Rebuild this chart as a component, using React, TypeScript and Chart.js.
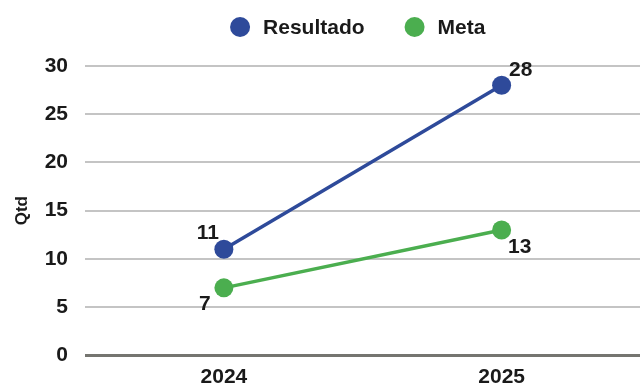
import React, { useEffect, useRef } from "react";
import { Chart, registerables } from "chart.js";

Chart.register(...registerables);

const categories = ["2024", "2025"];
const resultado = [11, 28];
const meta = [7, 13];
const yTicks = [0, 5, 10, 15, 20, 25, 30];

const BLUE = "#2E4A9A";
const GREEN = "#4BAE4F";
const FONT = "'Liberation Sans', Arial, sans-serif";
const TEXT = "#1a1a1a";

const labelPlugin = {
  id: "pointLabels",
  afterDatasetsDraw(chart: any) {
    const ctx = chart.ctx;
    ctx.save();
    ctx.font = `bold 21px ${FONT}`;
    ctx.fillStyle = TEXT;
    ctx.textBaseline = "middle";
    ctx.textAlign = "center";
    chart.data.datasets.forEach((ds: any, di: number) => {
      const m = chart.getDatasetMeta(di);
      m.data.forEach((pt: any, i: number) => {
        const v = ds.data[i];
        let dx = 0, dy = 0;
        if (di === 0) {
          if (i === 0) { dx = -16; dy = -16; }
          else { dx = 19; dy = -15; }
        } else {
          if (i === 0) { dx = -19; dy = 16; }
          else { dx = 18; dy = 17; }
        }
        ctx.fillText(String(v), pt.x + dx, pt.y + dy);
      });
    });
    ctx.restore();
  },
};

const legendPlugin = {
  id: "customLegend",
  afterDraw(chart: any) {
    const ctx = chart.ctx;
    const area = chart.chartArea;
    ctx.save();
    ctx.font = `bold 21px ${FONT}`;
    ctx.textBaseline = "middle";
    ctx.textAlign = "left";
    const r = 10, gap = 13, spacing = 40;
    const items = chart.data.datasets.map((ds: any) => ({
      label: ds.label,
      color: ds.borderColor,
      w: 2 * r + gap + ctx.measureText(ds.label).width,
    }));
    const total = items.reduce((s: number, it: any) => s + it.w, 0) + spacing * (items.length - 1);
    let x = (area.left + area.right) / 2 - 5 - total / 2;
    const y = 27;
    items.forEach((it: any) => {
      ctx.fillStyle = it.color;
      ctx.beginPath();
      ctx.arc(x + r, y, r, 0, Math.PI * 2);
      ctx.fill();
      ctx.fillStyle = TEXT;
      ctx.fillText(it.label, x + 2 * r + gap, y + 1);
      x += it.w + spacing;
    });
    ctx.restore();
  },
};

export default function App() {
  const ref = useRef<HTMLCanvasElement>(null);
  useEffect(() => {
    document.body.style.margin = "0";
    const chart = new Chart(ref.current!, {
      type: "line",
      data: {
        labels: categories,
        datasets: [
          {
            label: "Resultado",
            data: resultado,
            borderColor: BLUE,
            backgroundColor: BLUE,
            borderWidth: 3.5,
            pointRadius: 9.5,
            pointHoverRadius: 9.5,
            pointBackgroundColor: BLUE,
            pointBorderWidth: 0,
          },
          {
            label: "Meta",
            data: meta,
            borderColor: GREEN,
            backgroundColor: GREEN,
            borderWidth: 3.5,
            pointRadius: 9.5,
            pointHoverRadius: 9.5,
            pointBackgroundColor: GREEN,
            pointBorderWidth: 0,
          },
        ],
      },
      options: {
        animation: false,
        responsive: false,
        maintainAspectRatio: false,
        layout: { padding: { top: 66, right: 0, left: 8, bottom: -16 } },
        plugins: {
          tooltip: { enabled: false },
          legend: { display: false },
        },
        scales: {
          x: {
            offset: true,
            grid: { display: false, drawTicks: false },
            border: { display: false },
            ticks: {
              color: TEXT,
              padding: 9,
              font: { family: FONT, size: 21, weight: "bold" },
            },
          },
          y: {
            min: 0,
            max: 30,
            afterBuildTicks: (axis: any) => {
              axis.ticks = yTicks.map((v) => ({ value: v }));
            },
            afterFit: (axis: any) => {
              axis.width = 77;
            },
            grid: {
              color: (c: any) => (c.tick && c.tick.value === 0 ? "#757570" : "#C4C4C4"),
              lineWidth: (c: any) => (c.tick && c.tick.value === 0 ? 3 : 2),
              drawTicks: false,
            },
            border: { display: false },
            ticks: {
              color: TEXT,
              padding: 17,
              font: { family: FONT, size: 21, weight: "bold" },
            },
            title: {
              display: true,
              text: "Qtd",
              color: TEXT,
              padding: { top: 4, bottom: 0 },
              font: { family: FONT, size: 17, weight: "bold" },
            },
          },
        },
      },
      plugins: [labelPlugin, legendPlugin],
    });
    return () => chart.destroy();
  }, []);
  return (
    <div style={{ width: 640, height: 383, overflow: "hidden" }}>
      <canvas ref={ref} width={650} height={385} style={{ display: "block" }} />
    </div>
  );
}
